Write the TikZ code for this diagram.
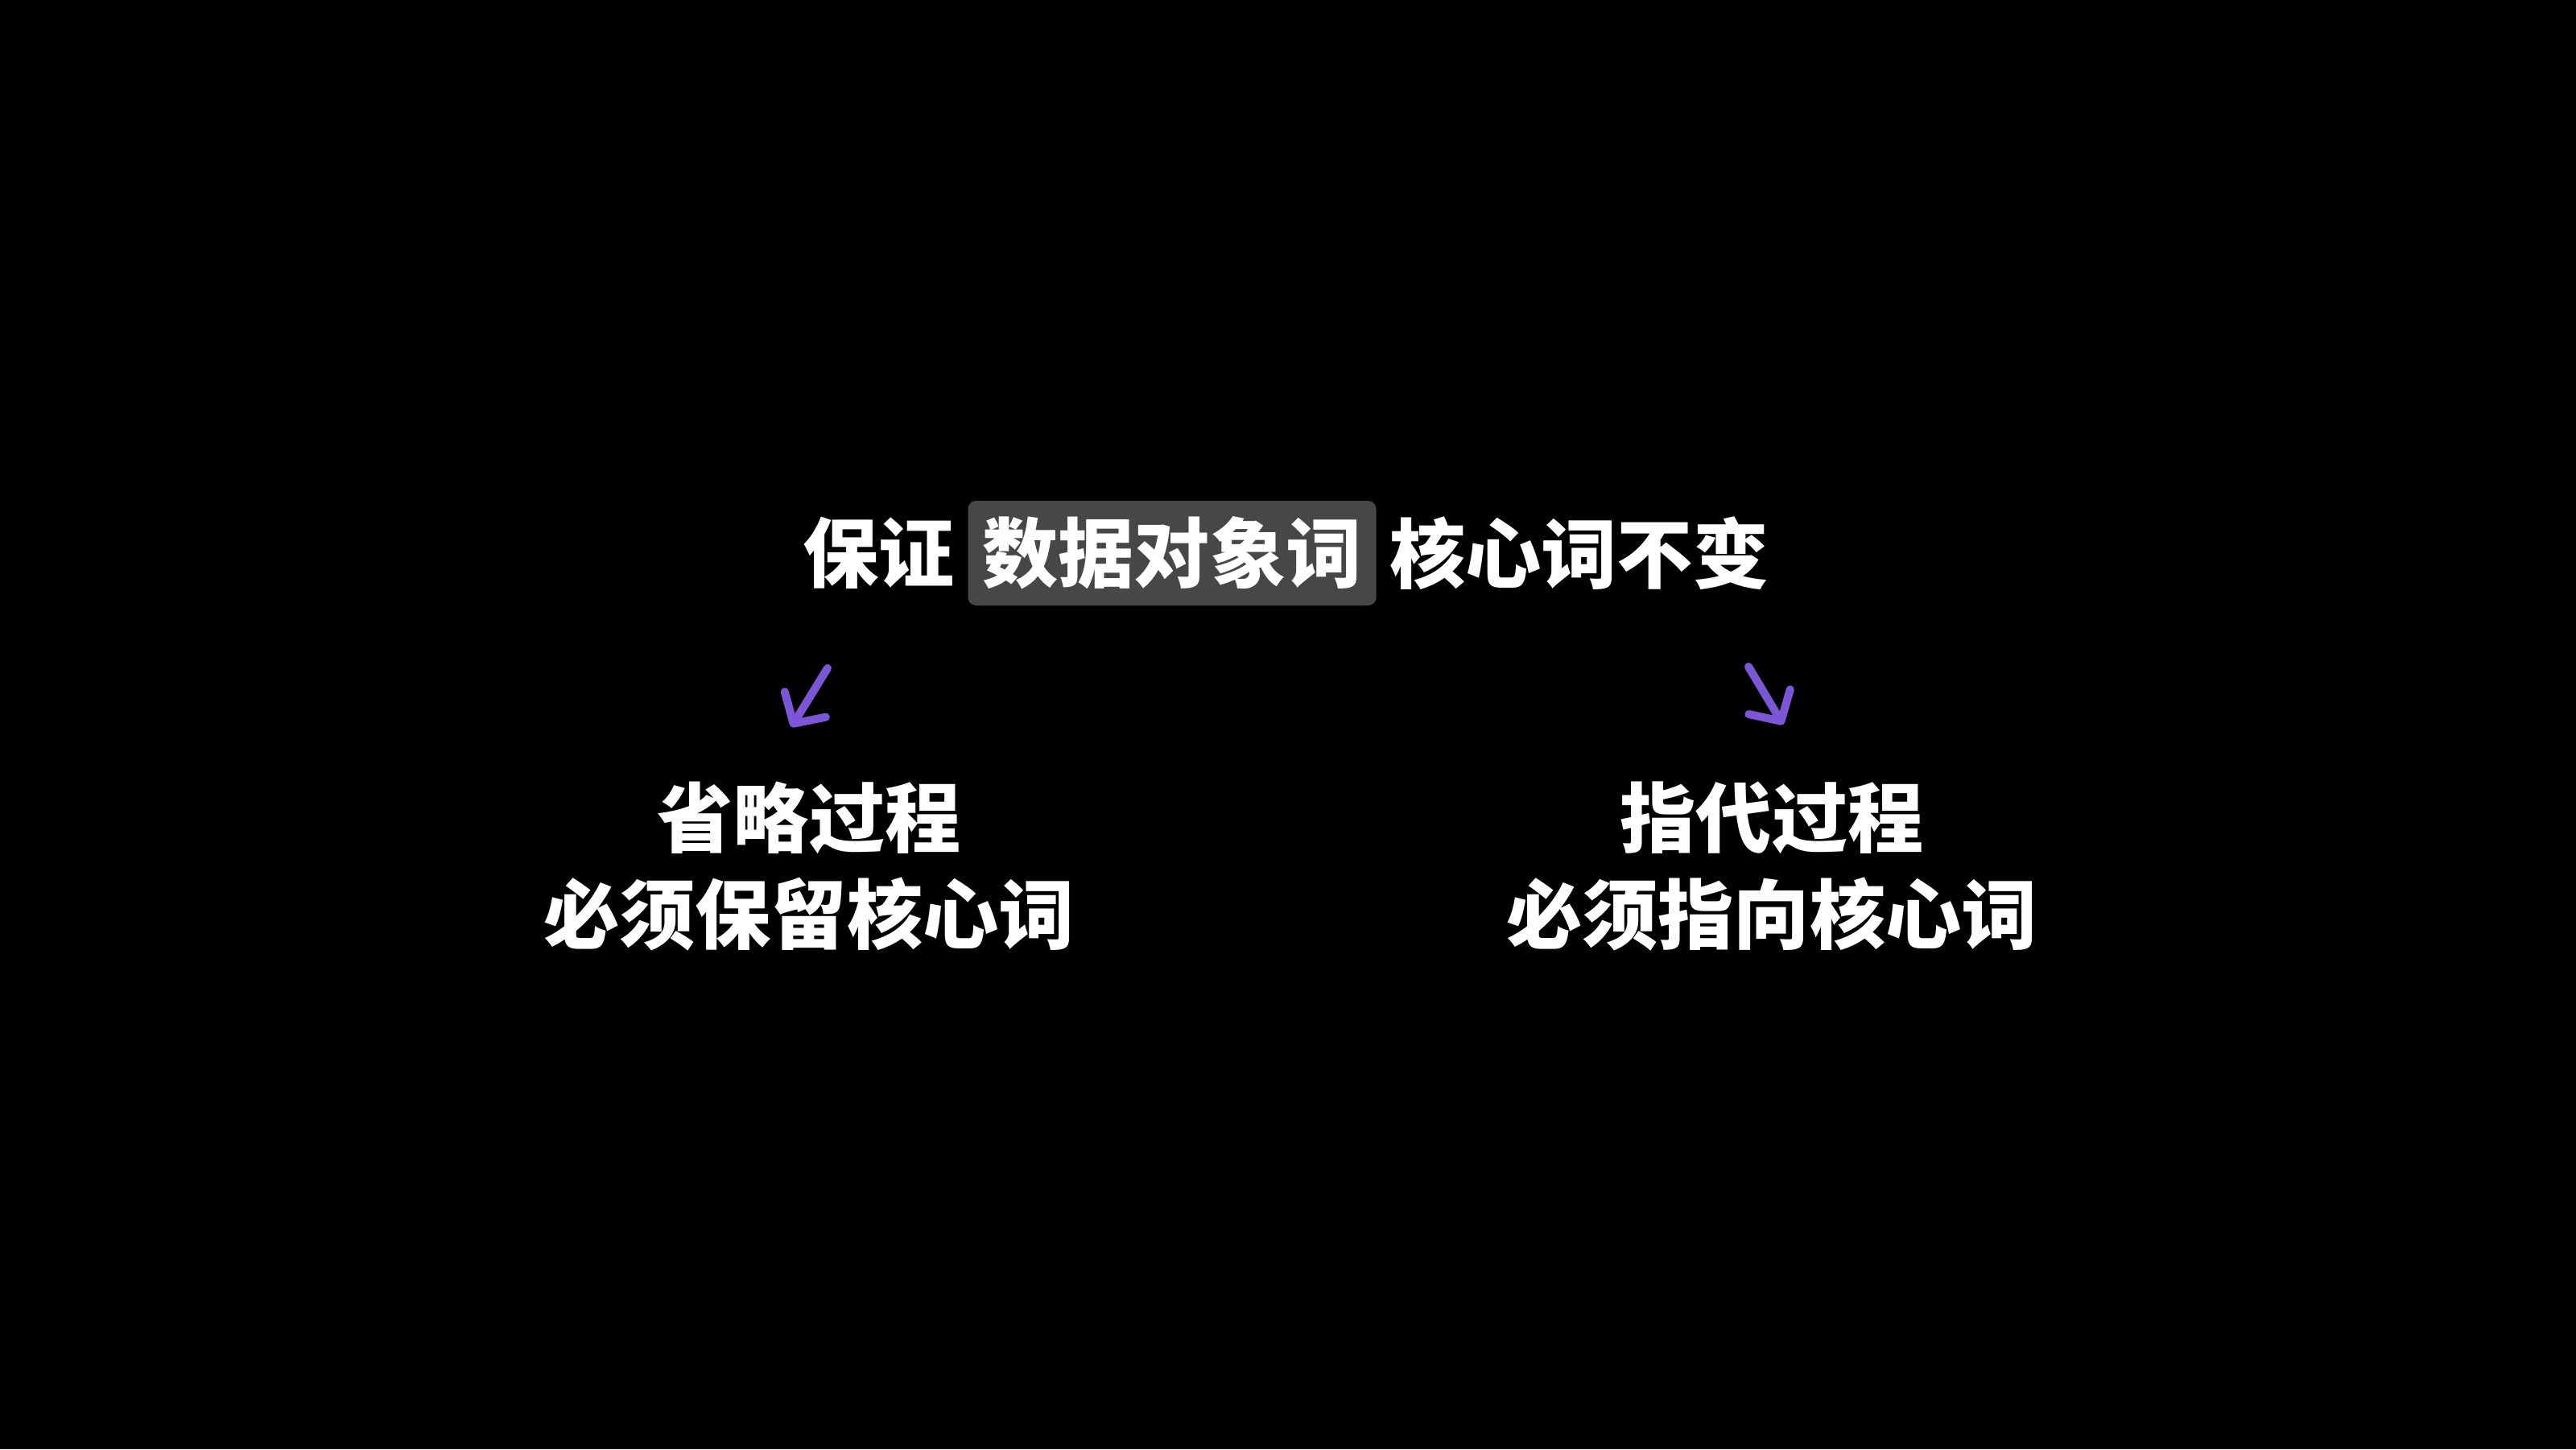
\documentclass[tikz,border=0pt]{standalone}
\usepackage{fontspec}
\newfontfamily\cjk{Noto Sans CJK SC}
\usetikzlibrary{positioning,arrows.meta}
\definecolor{hlgray}{RGB}{71,71,71}
\definecolor{arrowpurple}{RGB}{124,86,214}
\begin{document}
\begin{tikzpicture}[
    txt/.style={text=white,inner sep=0pt,font=\cjk\bfseries\fontsize{13.4}{17.07}\selectfont},
    hlbox/.style={txt,fill=hlgray,rounded corners=0.05cm,inner xsep=0.09cm,minimum height=0.65cm},
    pointer/.style={draw=arrowpurple,line width=0.05cm,line cap=round,-{Straight Barb[round,length=0.14cm,width=0.3cm]}}
  ]
    % background
    \fill[black] (0,0) rectangle (16,9);

    % title line
    \node[hlbox] (object) at (7.28,5.565) {数据对象词};
    \node[txt,left=0.07cm of object] (keep) {保证};
    \node[txt,right=0.07cm of object] (core) {核心词不变};

    % two branches
    \node[txt,align=center] (omit) at (5.025,3.62) {省略过程\\必须保留核心词};
    \node[txt,align=center] (refer) at (11.005,3.62) {指代过程\\必须指向核心词};

    % arrows
    \coordinate (omitfrom) at (5.14,4.85);
    \coordinate (omitto) at (4.915,4.485);
    \coordinate (referfrom) at (10.86,4.86);
    \coordinate (referto) at (11.075,4.5);
    \draw[pointer] (omitfrom) -- (omitto);
    \draw[pointer] (referfrom) -- (referto);
\end{tikzpicture}
\end{document}
